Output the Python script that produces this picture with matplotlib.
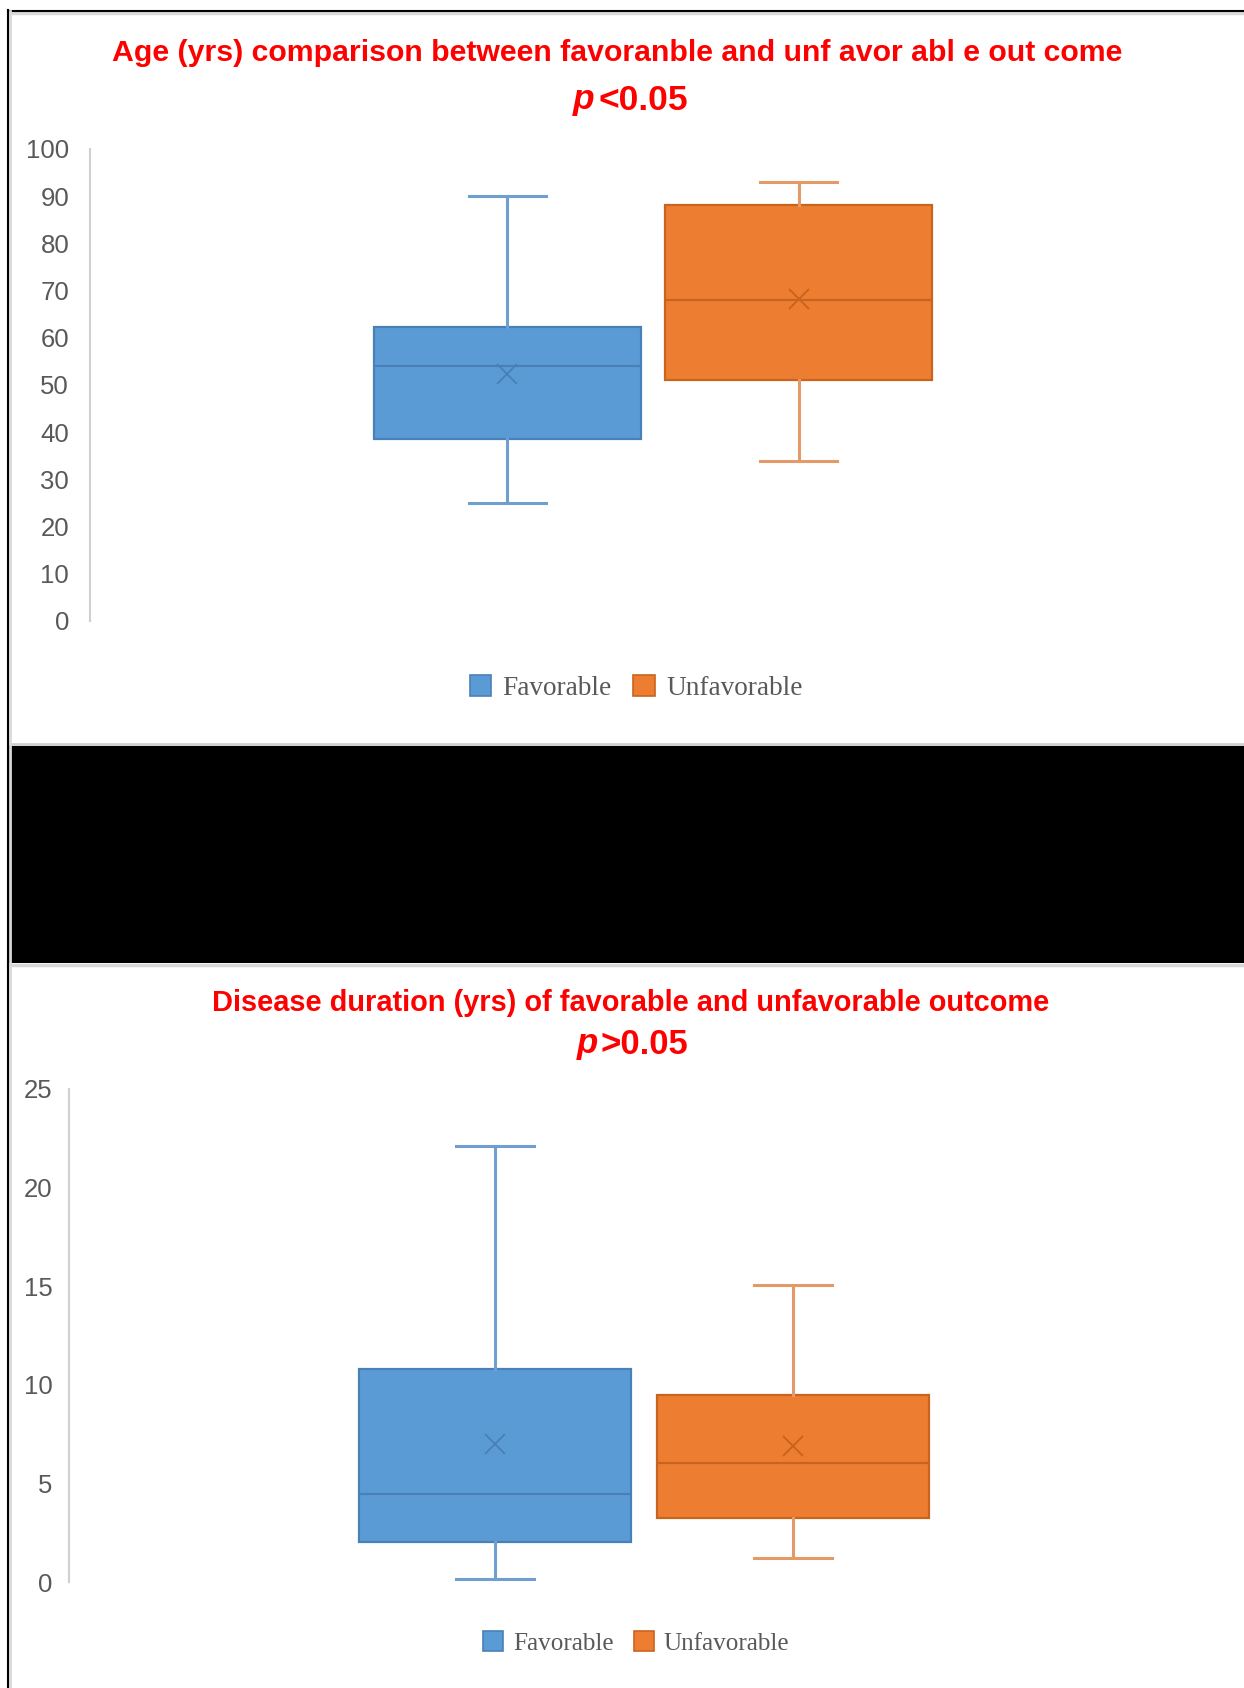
import matplotlib
matplotlib.use("Agg")
import matplotlib.pyplot as plt
from matplotlib.patches import Rectangle, Patch

W, H = 1244, 1688

groups = ["Favorable", "Unfavorable"]
fill_colors = ["#5B9BD5", "#ED7D31"]
edge_colors = ["#4A80B8", "#C9641F"]
whisker_colors = ["#6E9FD0", "#E39A66"]

# age (yrs)
age_low = [25, 34]
age_q1 = [38.6, 51.1]
age_med = [54.0, 68.0]
age_q3 = [62.2, 88.2]
age_high = [90, 93]
age_mean = [52.3, 68.2]
age_ticks = list(range(0, 101, 10))

# disease duration (yrs)
dur_low = [0.15, 1.2]
dur_q1 = [2.05, 3.25]
dur_med = [4.45, 6.05]
dur_q3 = [10.8, 9.5]
dur_high = [22.1, 15.05]
dur_mean = [7.0, 6.9]
dur_ticks = list(range(0, 26, 5))

title_age = "Age (yrs) comparison between favoranble and unf avor abl e out come"
title_dur = "Disease duration (yrs) of favorable and unfavorable outcome"

plt.rcParams['font.family'] = ['Liberation Sans', 'DejaVu Sans']
title_family = ['Liberation Sans', 'DejaVu Sans']


def fx(x):
    return x / W


def fy(y):
    return 1 - y / H


def make_stats(low, q1, med, q3, high, mean):
    stats = []
    for i in range(len(groups)):
        stats.append(dict(label=groups[i], whislo=low[i], q1=q1[i], med=med[i],
                          q3=q3[i], whishi=high[i], mean=mean[i], fliers=[]))
    return stats


def draw_box_chart(rect_px, stats, ymax, ticks, pad):
    left, top, right, bottom = rect_px
    ax = fig.add_axes([fx(left), fy(bottom), fx(right - left), (bottom - top) / H])
    ax.set_facecolor('none')
    res = ax.bxp(stats, positions=[-0.5, 0.5], widths=0.915, capwidths=0.264,
                 patch_artist=True, showmeans=True, showfliers=False,
                 manage_ticks=False)
    for i in range(len(groups)):
        res['boxes'][i].set(facecolor=fill_colors[i], edgecolor=edge_colors[i], linewidth=1.6)
        res['medians'][i].set(color=edge_colors[i], linewidth=1.6)
        res['means'][i].set(marker='x', markersize=14, markeredgewidth=1.4,
                            markeredgecolor=edge_colors[i], markerfacecolor='none')
        for line in res['whiskers'][2 * i:2 * i + 2] + res['caps'][2 * i:2 * i + 2]:
            line.set(color=whisker_colors[i], linewidth=2.2)
    ax.set_xlim(-1.93, 1.93)
    ax.set_ylim(0, ymax)
    ax.set_xticks([])
    ax.set_yticks(ticks)
    ax.tick_params(axis='y', length=0, pad=pad, labelsize=18.5, labelcolor='#595959')
    for s in ['top', 'right', 'bottom']:
        ax.spines[s].set_visible(False)
    ax.spines['left'].set(color='#D0D0D0', linewidth=1.5)
    return ax


fig = plt.figure(figsize=(W / 100, H / 100), dpi=100)
fig.patch.set_facecolor('white')

# page frame and the black band between the two panels
bg = fig.add_axes([0, 0, 1, 1])
bg.set_xlim(0, W)
bg.set_ylim(H, 0)
bg.axis('off')
bg.add_patch(Rectangle((8, 746), W - 8, 217, facecolor='black', edgecolor='none'))
bg.plot([8, W], [743.5, 743.5], color='#CFCFCF', linewidth=2)
bg.plot([8, W], [965, 965], color='#D8D8D8', linewidth=2.5)
bg.plot([8, W], [12.5, 12.5], color='#DADADA', linewidth=2.5)
bg.plot([8, W], [10.5, 10.5], color='black', linewidth=1.5)
bg.plot([9.5, 9.5], [11, H], color='#DADADA', linewidth=2)
bg.plot([7.5, 7.5], [10, H], color='black', linewidth=1.5)

# titles
fig.text(fx(617), fy(53), title_age, ha='center', va='center', color='#FF0000',
         fontweight='bold', family=title_family, fontsize=21.8)
fig.text(fx(594), fy(100), "p", ha='right', va='center', color='#FF0000',
         fontweight='bold', fontstyle='italic', family=title_family, fontsize=25.5)
fig.text(fx(598), fy(100), "<0.05", ha='left', va='center', color='#FF0000',
         fontweight='bold', family=title_family, fontsize=25.5)

fig.text(fx(631), fy(1003), title_dur, ha='center', va='center', color='#FF0000',
         fontweight='bold', family=title_family, fontsize=20.9)
fig.text(fx(598), fy(1044), "p", ha='right', va='center', color='#FF0000',
         fontweight='bold', fontstyle='italic', family=title_family, fontsize=25)
fig.text(fx(601), fy(1044), ">0.05", ha='left', va='center', color='#FF0000',
         fontweight='bold', family=title_family, fontsize=25)

ax1 = draw_box_chart((90, 149, 1216, 621),
                     make_stats(age_low, age_q1, age_med, age_q3, age_high, age_mean),
                     100, age_ticks, 15)
ax2 = draw_box_chart((69, 1089, 1219, 1582),
                     make_stats(dur_low, dur_q1, dur_med, dur_q3, dur_high, dur_mean),
                     25, dur_ticks, 12)

handles = [Patch(facecolor=fill_colors[i], edgecolor=edge_colors[i], linewidth=1.2, label=groups[i])
           for i in range(len(groups))]
for anchor, size in [((636, 688), 19.6), ((636, 1643), 18.1)]:
    fig.legend(handles=handles, loc='center', bbox_to_anchor=(fx(anchor[0]), fy(anchor[1])),
               ncol=2, frameon=False, handlelength=0.8, handleheight=0.8,
               handletextpad=0.4, columnspacing=0.8,
               prop={'family': ['Liberation Serif', 'DejaVu Serif'], 'size': size},
               labelcolor='#595959')

fig.savefig("out.png", dpi=100, facecolor='white')
